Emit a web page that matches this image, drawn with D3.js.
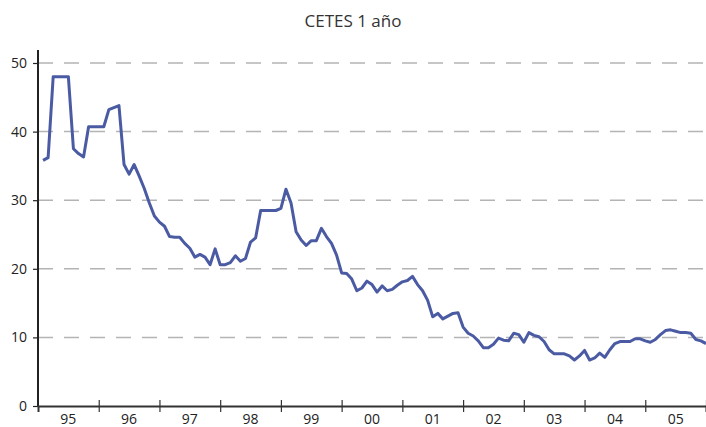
<!DOCTYPE html>
<html>
<head>
<meta charset="utf-8">
<script src="https://cdn.jsdelivr.net/npm/d3@7/dist/d3.min.js"></script>
<style>
  html, body { margin: 0; padding: 0; background: #fff; }
  svg { display: block; }
</style>
</head>
<body>
<svg id="chart" width="706" height="427"></svg>
<script>
// Monthly yield, CETES 1 year (%), January 1995 – December 2005
const yearLabels = ["95","96","97","98","99","00","01","02","03","04","05"];
const yTicks = [0, 10, 20, 30, 40, 50];
const rates = [
  // 1995
  35.8, 36.2, 48.0, 48.0, 48.0, 48.0, 37.5, 36.8, 36.3, 40.7, 40.7, 40.7,
  // 1996
  40.7, 43.2, 43.5, 43.8, 35.2, 33.8, 35.2, 33.5, 31.7, 29.6, 27.7, 26.8,
  // 1997
  26.2, 24.7, 24.6, 24.6, 23.7, 23.0, 21.7, 22.1, 21.7, 20.6, 22.9, 20.6,
  // 1998
  20.6, 20.9, 21.9, 21.1, 21.5, 23.9, 24.5, 28.5, 28.5, 28.5, 28.5, 28.8,
  // 1999
  31.6, 29.6, 25.4, 24.2, 23.4, 24.1, 24.1, 25.9, 24.7, 23.7, 22.0, 19.4,
  // 2000
  19.3, 18.5, 16.8, 17.2, 18.2, 17.7, 16.6, 17.5, 16.8, 17.0, 17.6, 18.1,
  // 2001
  18.3, 18.9, 17.7, 16.8, 15.4, 13.0, 13.5, 12.7, 13.1, 13.5, 13.6, 11.5,
  // 2002
  10.6, 10.2, 9.5, 8.5, 8.5, 9.0, 9.9, 9.6, 9.5, 10.6, 10.4, 9.3,
  // 2003
  10.7, 10.3, 10.1, 9.4, 8.2, 7.6, 7.6, 7.6, 7.3, 6.7, 7.3, 8.1,
  // 2004
  6.7, 7.0, 7.7, 7.1, 8.2, 9.1, 9.4, 9.4, 9.4, 9.8, 9.8, 9.5,
  // 2005
  9.3, 9.7, 10.4, 11.0, 11.1, 10.9, 10.7, 10.7, 10.6, 9.7, 9.5, 9.1
];

const svg = d3.select("#chart");
const plotLeft = 38, plotRight = 706, plotTop = 63, plotBottom = 406;
const fontFamily = "'Open Sans', 'Noto Sans', sans-serif";

// x: months since January 1995; each value sits at the end of its month
const x = d3.scaleLinear().domain([0, rates.length]).range([plotLeft, plotRight]);
const y = d3.scaleLinear().domain([0, 50]).range([plotBottom, plotTop]);

// Title
svg.append("text")
  .attr("x", 353).attr("y", 27)
  .attr("text-anchor", "middle")
  .attr("font-family", fontFamily)
  .attr("font-size", 17)
  .attr("fill", "#333")
  .text("CETES 1 año");

// Dashed horizontal gridlines
svg.append("g")
  .selectAll("line")
  .data(yTicks.filter(d => d > 0))
  .join("line")
  .attr("x1", plotLeft).attr("x2", plotRight)
  .attr("y1", d => y(d)).attr("y2", d => y(d))
  .attr("stroke", "#b4b4b4")
  .attr("stroke-width", 1.5)
  .attr("stroke-dasharray", "15,11");

// Y axis
const yAxis = d3.axisLeft(y).tickValues(yTicks).tickSize(5).tickPadding(6).tickFormat(d3.format("d"));
const gy = svg.append("g").attr("transform", `translate(${plotLeft},0)`).call(yAxis);
gy.select(".domain").remove();
gy.selectAll(".tick line").attr("stroke", "#222").attr("stroke-width", 1.2);
gy.selectAll(".tick text")
  .attr("font-family", fontFamily).attr("font-size", 14).attr("fill", "#222");
svg.append("line")
  .attr("x1", plotLeft).attr("x2", plotLeft)
  .attr("y1", 50).attr("y2", plotBottom)
  .attr("stroke", "#222").attr("stroke-width", 2);

// X axis: ticks at year boundaries, labels centred within each year
const yearBounds = d3.range(0, rates.length + 1, 12);
const xAxis = d3.axisBottom(x).tickValues(yearBounds).tickSize(6).tickFormat("");
const gx = svg.append("g").attr("transform", `translate(0,${plotBottom})`).call(xAxis);
gx.select(".domain").attr("stroke", "#333").attr("stroke-width", 2);
gx.selectAll(".tick line").attr("stroke", "#333").attr("stroke-width", 1.2).attr("y1", -6);
gx.selectAll(".tick").filter(d => d === 0).remove();

svg.append("g")
  .selectAll("text")
  .data(yearLabels)
  .join("text")
  .attr("x", (d, i) => x(i * 12 + 6))
  .attr("y", 424)
  .attr("text-anchor", "middle")
  .attr("font-family", fontFamily)
  .attr("font-size", 14)
  .attr("fill", "#222")
  .text(d => d);

// Rate line
const line = d3.line()
  .x((d, i) => x(i + 1))
  .y(d => y(d));

svg.append("path")
  .datum(rates)
  .attr("d", line)
  .attr("fill", "none")
  .attr("stroke", "#4b5ba3")
  .attr("stroke-width", 3)
  .attr("stroke-linejoin", "round");
</script>
</body>
</html>
